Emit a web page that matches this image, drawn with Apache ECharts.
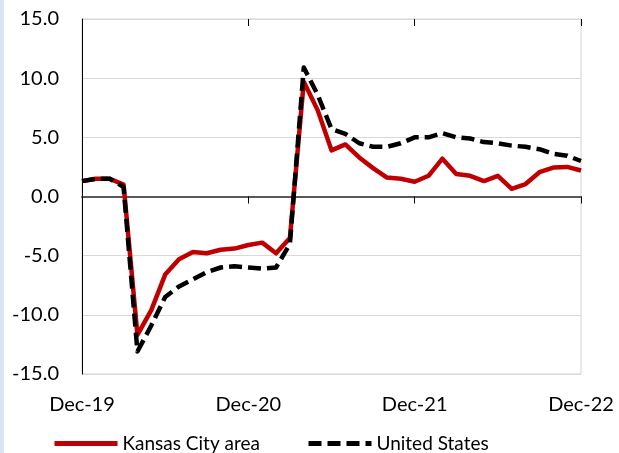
<!DOCTYPE html>
<html>
<head>
<meta charset="utf-8">
<script src="https://cdn.jsdelivr.net/npm/echarts@6/dist/echarts.min.js"></script>
<style>
  html, body { margin: 0; padding: 0; background: #ffffff; }
  #chart { width: 619px; height: 453px; }
</style>
</head>
<body>
<div id="chart"></div>
<script>
// Monthly months Dec-19 .. Dec-22, year-over-year percent change
const months = [
  'Dec-19','Jan-20','Feb-20','Mar-20','Apr-20','May-20','Jun-20','Jul-20','Aug-20','Sep-20','Oct-20','Nov-20',
  'Dec-20','Jan-21','Feb-21','Mar-21','Apr-21','May-21','Jun-21','Jul-21','Aug-21','Sep-21','Oct-21','Nov-21',
  'Dec-21','Jan-22','Feb-22','Mar-22','Apr-22','May-22','Jun-22','Jul-22','Aug-22','Sep-22','Oct-22','Nov-22',
  'Dec-22'
];
const tickMonths = ['Dec-19', 'Dec-20', 'Dec-21', 'Dec-22'];

const kansasCity = [
  1.3, 1.5, 1.5, 1.0, -11.7, -9.6, -6.6, -5.3, -4.7, -4.8, -4.5, -4.4,
  -4.1, -3.9, -4.8, -3.5, 9.7, 7.3, 3.9, 4.4, 3.3, 2.4, 1.6, 1.5,
  1.25, 1.75, 3.2, 1.9, 1.75, 1.3, 1.75, 0.65, 1.05, 2.05, 2.45, 2.5,
  2.2
];
const unitedStates = [
  1.3, 1.5, 1.5, 0.8, -13.1, -10.9, -8.5, -7.6, -7.0, -6.4, -6.0, -5.9,
  -6.0, -6.1, -6.0, -4.0, 10.9, 8.6, 5.7, 5.3, 4.5, 4.2, 4.2, 4.5,
  5.0, 5.0, 5.35, 5.0, 4.9, 4.6, 4.5, 4.3, 4.2, 4.0, 3.6, 3.45,
  3.0
];
const yTicks = { min: -15, max: 15, step: 5 };

const FONT = 'Lato';
const showTick = (i, v) => tickMonths.indexOf(v) !== -1;

const chart = echarts.init(document.getElementById('chart'), null, { renderer: 'canvas' });
chart.setOption({
  animation: false,
  backgroundColor: '#ffffff',
  textStyle: { fontFamily: FONT },
  graphic: [{
    type: 'rect',
    left: 0, top: 0,
    shape: { width: 4, height: 453 },
    style: { fill: '#dae3f3' },
    silent: true
  }],
  grid: {
    left: 82, right: 38, top: 19, bottom: 79,
    show: true, borderColor: '#d4d4d4', borderWidth: 1
  },
  legend: {
    left: 47, top: 429,
    itemWidth: 63, itemHeight: 12, itemGap: 46,
    textStyle: { fontFamily: FONT, fontSize: 19, color: '#000000' },
    itemStyle: { opacity: 0 },
    lineStyle: { width: 5 },
    data: [
      { name: 'Kansas City area', itemStyle: { opacity: 0 } },
      { name: 'United States', itemStyle: { opacity: 0 } }
    ]
  },
  xAxis: [
    {
      type: 'category', data: months, boundaryGap: false,
      position: 'bottom',
      axisLine: { show: false, onZero: false },
      axisTick: { show: false },
      axisLabel: {
        interval: showTick, margin: 21,
        fontFamily: FONT, fontSize: 20, color: '#000000'
      },
      splitLine: { show: false }
    },
    {
      type: 'category', data: months, boundaryGap: false,
      position: 'bottom',
      axisLine: { show: true, onZero: true, lineStyle: { color: '#595959', width: 2 } },
      axisTick: { show: true, interval: showTick, length: 7, lineStyle: { color: '#000000', width: 1 } },
      axisLabel: { show: false },
      splitLine: { show: false }
    },
    {
      type: 'category', data: months, boundaryGap: false,
      position: 'top',
      axisLine: { show: false, onZero: true },
      axisTick: { show: true, inside: true, interval: showTick, length: 7, lineStyle: { color: '#000000', width: 1 } },
      axisLabel: { show: false },
      splitLine: { show: false }
    }
  ],
  yAxis: {
    type: 'value', min: yTicks.min, max: yTicks.max, interval: yTicks.step,
    axisLine: { show: true, lineStyle: { color: '#000000', width: 1 } },
    axisTick: { show: false },
    axisLabel: {
      margin: 23, fontFamily: FONT, fontSize: 20, color: '#000000',
      formatter: v => v.toFixed(1)
    },
    splitLine: { show: true, lineStyle: { color: '#d9d9d9', width: 1 } }
  },
  series: [
    {
      name: 'Kansas City area', type: 'line', data: kansasCity,
      xAxisIndex: 0, showSymbol: false, symbol: 'none',
      lineStyle: { color: '#c00000', width: 4.5, join: 'round' },
      itemStyle: { color: '#c00000' },
      z: 3
    },
    {
      name: 'United States', type: 'line', data: unitedStates,
      xAxisIndex: 0, showSymbol: false, symbol: 'none',
      lineStyle: { color: '#000000', width: 4.5, type: [13, 6], join: 'round' },
      itemStyle: { color: '#000000' },
      z: 4
    }
  ]
});
</script>
</body>
</html>
